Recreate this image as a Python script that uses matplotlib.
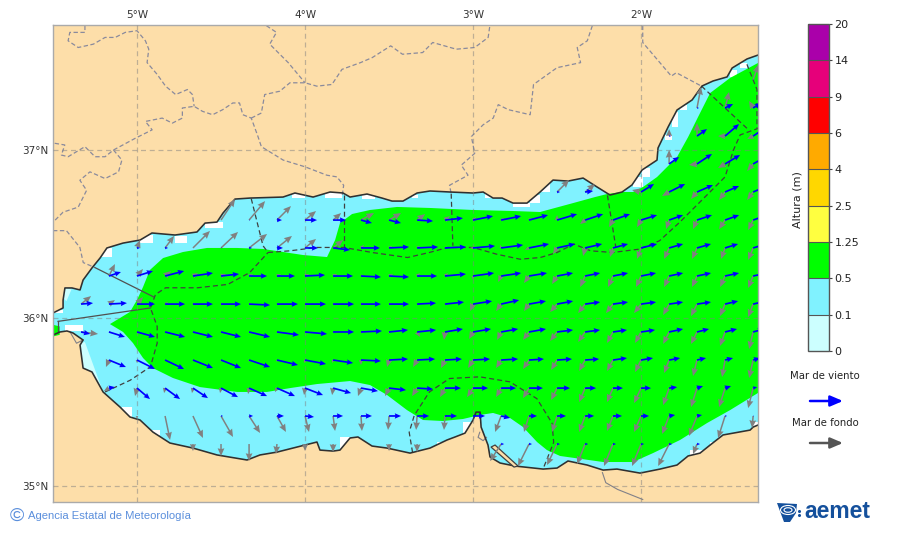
import numpy as np
import matplotlib
matplotlib.use('Agg')
import matplotlib.pyplot as plt
from matplotlib.colors import ListedColormap, BoundaryNorm
from matplotlib.cm import ScalarMappable
from matplotlib.patches import Polygon, Rectangle, Ellipse

N = np.nan

# wave height classes
levels = [0, 1, 2, 3, 4, 5, 6, 7, 8, 9]
level_labels = ['0', '0.1', '0.5', '1.25', '2.5', '4', '6', '9', '14', '20']
level_colors = ['#ccffff', '#80f2ff', '#00ff00', '#ffff40', '#ffd700', '#ffaa00', '#ff0000', '#e6007a', '#aa00aa']

# coast, east to west along the spanish side
north_lon = [-1.304, -1.369, -1.458, -1.488, -1.571, -1.637, -1.696, -1.786, -1.839, -1.899, -1.905, -1.994, -2.054,
             -2.113, -2.185, -2.262, -2.345, -2.435, -2.524, -2.601, -2.679, -2.762, -2.827, -2.881, -2.940, -3.0,
             -3.137, -3.256, -3.333, -3.417, -3.482, -3.542, -3.631, -3.732, -3.774, -3.851, -3.952, -4.060, -4.131,
             -4.327, -4.417, -4.488, -4.524, -4.595, -4.643, -4.774, -4.911, -4.982, -5.083, -5.179, -5.220, -5.268,
             -5.321, -5.339, -5.387, -5.429, -5.440, -5.440, -5.488, -5.5]
north_lat = [37.565, 37.542, 37.488, 37.435, 37.411, 37.381, 37.298, 37.238, 37.137, 37.012, 36.940, 36.881, 36.792,
             36.750, 36.732, 36.780, 36.833, 36.815, 36.821, 36.750, 36.684, 36.684, 36.714, 36.714, 36.750, 36.744,
             36.750, 36.756, 36.744, 36.696, 36.696, 36.714, 36.738, 36.720, 36.744, 36.750, 36.720, 36.744, 36.720,
             36.714, 36.708, 36.625, 36.571, 36.565, 36.512, 36.494, 36.506, 36.464, 36.446, 36.417, 36.357, 36.298,
             36.226, 36.167, 36.179, 36.179, 36.107, 36.060, 36.036, 36.030]
# coast, west to east along the african side
south_lon = [-5.5, -5.458, -5.417, -5.381, -5.321, -5.339, -5.321, -5.268, -5.202, -5.101, -5.042, -4.982, -4.905,
             -4.804, -4.667, -4.524, -4.345, -4.268, -4.167, -3.929, -3.911, -3.833, -3.792, -3.732, -3.685, -3.601,
             -3.512, -3.375, -3.256, -3.155, -3.107, -3.048, -3.0, -2.982, -2.958, -2.952, -2.911, -2.899, -2.839,
             -2.75, -2.583, -2.5, -2.435, -2.321, -2.226, -2.143, -2.006, -1.887, -1.786, -1.720, -1.649, -1.589,
             -1.512, -1.351, -1.333, -1.304]
south_lat = [35.899, 35.917, 35.923, 35.911, 35.869, 35.839, 35.702, 35.679, 35.560, 35.470, 35.411, 35.393, 35.321,
             35.256, 35.226, 35.185, 35.155, 35.185, 35.202, 35.262, 35.214, 35.208, 35.214, 35.286, 35.292, 35.238,
             35.226, 35.196, 35.226, 35.274, 35.292, 35.315, 35.393, 35.440, 35.440, 35.351, 35.244, 35.173, 35.137,
             35.119, 35.101, 35.107, 35.149, 35.125, 35.095, 35.101, 35.077, 35.101, 35.125, 35.179, 35.196, 35.244,
             35.304, 35.333, 35.351, 35.363]

# 0.5-1.25 m class
green_lon = [-1.304, -1.470, -1.589, -1.661, -1.720, -1.786, -1.905, -1.988, -2.048, -2.113, -2.202, -2.274, -2.405,
             -2.601, -2.762, -3.0, -3.256, -3.452, -3.613, -3.720, -3.792, -3.821, -3.869, -4.012, -4.131, -4.25,
             -4.405, -4.583, -4.726, -4.845, -4.923, -4.964, -5.0, -5.042, -5.161, -5.083, -5.024, -4.964, -4.905,
             -4.786, -4.625, -4.405, -4.226, -4.089, -3.929, -3.732, -3.613, -3.512, -3.393, -3.298, -3.179, -3.060,
             -2.958, -2.881, -2.780, -2.702, -2.619, -2.560, -2.482, -2.226, -2.048, -1.929, -1.768, -1.607, -1.470,
             -1.304]
green_lat = [37.518, 37.429, 37.339, 37.196, 37.077, 36.958, 36.839, 36.780, 36.750, 36.750, 36.738, 36.720, 36.684,
             36.631, 36.637, 36.643, 36.655, 36.661, 36.643, 36.619, 36.565, 36.464, 36.363, 36.375, 36.393, 36.411,
             36.417, 36.417, 36.393, 36.357, 36.286, 36.185, 36.107, 36.036, 35.964, 35.917, 35.851, 35.762, 35.702,
             35.643, 35.589, 35.560, 35.560, 35.583, 35.607, 35.625, 35.601, 35.542, 35.452, 35.393, 35.387, 35.399,
             35.423, 35.435, 35.405, 35.351, 35.262, 35.214, 35.179, 35.143, 35.143, 35.196, 35.274, 35.375, 35.452,
             35.554]
ceuta_lon = [-5.5, -5.46, -5.46, -5.5]
ceuta_lat = [35.96, 35.95, 35.90, 35.89]

# 0-0.1 m class
pale_lon = [-5.339, -5.310, -5.202, -5.268, -5.321]
pale_lat = [35.851, 35.857, 35.560, 35.679, 35.702]
pale2_lon = [-5.43, -5.39, -5.42, -5.44]
pale2_lat = [36.18, 36.17, 36.10, 36.12]

# sand spit east of Melilla
spit_lon = [-2.893, -2.869, -2.732, -2.756]
spit_lat = [35.232, 35.244, 35.119, 35.113]

# cells with no data along the coast
gap_west = [-4.595, -4.774, -4.982, -5.208, -5.429, -5.089, -4.911, -3.792, -4.077, -3.881, -3.661, -3.363, -2.929,
            -2.762, -2.661, -2.601, -2.048, -1.994, -1.857, -1.815, -1.768, -1.470, -1.411, -3.214, -3.060, -1.708,
            -1.589, -1.333, -5.488]
gap_east = [-4.488, -4.702, -4.905, -5.149, -5.321, -5.030, -4.863, -3.732, -4.0, -3.780, -3.583, -3.327, -2.881,
            -2.661, -2.601, -2.542, -1.988, -1.946, -1.815, -1.780, -1.726, -1.429, -1.369, -3.167, -3.006, -1.631,
            -1.560, -1.304, -5.440]
gap_south = [36.536, 36.446, 36.446, 36.363, 35.923, 35.411, 35.304, 35.214, 36.714, 36.714, 36.708, 36.714, 36.714,
             36.661, 36.684, 36.750, 36.780, 36.839, 37.060, 37.137, 37.238, 37.435, 37.488, 35.232, 35.292, 35.179,
             35.244, 35.351, 36.030]
gap_north = [36.571, 36.488, 36.494, 36.417, 35.958, 35.470, 35.333, 35.292, 36.744, 36.744, 36.738, 36.732, 36.750,
             36.684, 36.732, 36.804, 36.839, 36.893, 37.089, 37.226, 37.268, 37.476, 37.518, 35.262, 35.381, 35.214,
             35.262, 35.381, 36.048]

# provinces and country borders on land, (lon, lat)
land_borders = [
    ([-5.31, -5.31, -5.40, -5.41, -5.35, -5.26, -5.19, -5.13, -5.07, -5.00, -4.95, -4.93, -4.94, -4.88, -4.83, -4.77,
      -4.70, -4.67, -4.66],
     [37.74, 37.70, 37.70, 37.65, 37.61, 37.63, 37.67, 37.67, 37.70, 37.71, 37.65, 37.60, 37.52, 37.45, 37.38, 37.33,
      37.36, 37.33, 37.26]),
    ([-5.49, -5.43, -5.45, -5.41, -5.31, -5.25, -5.19, -5.14, -5.01, -4.91, -4.95, -4.85, -4.79, -4.73, -4.73, -4.66,
      -4.61, -4.55, -4.49, -4.43, -4.39, -4.37, -4.32, -4.28, -4.26, -4.13, -4.00, -3.87, -3.81, -3.77, -3.78],
     [37.04, 37.03, 36.97, 36.96, 37.02, 36.96, 36.96, 37.00, 37.07, 37.12, 37.17, 37.19, 37.16, 37.19, 37.25, 37.26,
      37.23, 37.21, 37.24, 37.28, 37.28, 37.21, 37.19, 37.08, 37.02, 36.94, 36.90, 36.85, 36.84, 36.79, 36.72]),
    ([-5.14, -5.09, -5.11, -5.19, -5.28, -5.34, -5.30, -5.35, -5.44, -5.50],
     [37.00, 36.94, 36.87, 36.83, 36.87, 36.82, 36.76, 36.66, 36.63, 36.57]),
    ([-5.50, -5.42, -5.34, -5.32, -5.25],
     [36.52, 36.52, 36.42, 36.33, 36.30]),
    ([-4.32, -4.26, -4.24, -4.15, -4.09, -4.00, -3.93, -3.84, -3.78, -3.67, -3.60, -3.49, -3.42, -3.30, -3.24, -3.10,
      -2.99, -2.91, -2.90],
     [37.19, 37.22, 37.33, 37.35, 37.40, 37.40, 37.38, 37.39, 37.48, 37.52, 37.55, 37.62, 37.57, 37.58, 37.64, 37.60,
      37.61, 37.67, 37.74]),
    ([-4.23, -4.17, -4.21, -4.10, -4.00],
     [37.74, 37.70, 37.63, 37.52, 37.40]),
    ([-2.29, -2.32, -2.38, -2.36, -2.50, -2.64, -2.66, -2.79, -2.85, -2.88, -2.94, -3.01, -2.99, -3.07, -3.03, -3.14,
      -3.13],
     [37.74, 37.65, 37.61, 37.52, 37.49, 37.39, 37.21, 37.24, 37.27, 37.19, 37.15, 37.08, 36.98, 36.91, 36.85, 36.79,
      36.74]),
    ([-1.99, -1.99, -1.82, -1.79, -1.64],
     [37.74, 37.64, 37.44, 37.46, 37.38]),
]

# maritime zones, dashed
sea_dashed = [
    ([-5.19, -5.04, -4.92, -4.88, -4.88, -4.92, -4.89, -4.83, -4.64, -4.46, -4.33, -4.22],
     [35.56, 35.63, 35.71, 35.85, 35.95, 36.06, 36.14, 36.18, 36.18, 36.20, 36.27, 36.39]),
    ([-4.22, -4.09, -3.93, -3.77, -3.60, -3.39, -3.26, -3.15, -3.00, -2.86, -2.72, -2.60, -2.50, -2.40, -2.30, -2.17,
      -2.01, -1.89, -1.77, -1.61, -1.50, -1.45, -1.41, -1.30],
     [36.39, 36.40, 36.42, 36.42, 36.39, 36.36, 36.39, 36.42, 36.42, 36.38, 36.35, 36.36, 36.39, 36.44, 36.40, 36.39,
      36.41, 36.46, 36.57, 36.73, 36.84, 37.00, 37.09, 37.13]),
    ([-3.77, -3.77], [36.73, 36.42]),
    ([-3.13, -3.12], [36.74, 36.43]),
    ([-2.20, -2.15], [36.73, 36.42]),
    ([-4.32, -4.25, -4.22], [36.71, 36.43, 36.39]),
    ([-1.64, -1.36], [37.38, 37.12]),
    ([-1.37, -1.31, -1.31], [37.51, 37.36, 37.13]),
    ([-3.36, -3.38, -3.35, -3.26, -3.14, -2.96, -2.78, -2.62, -2.53, -2.52, -2.58],
     [35.20, 35.32, 35.42, 35.56, 35.64, 35.65, 35.62, 35.52, 35.375, 35.26, 35.11]),
]
sea_solid = [
    ([-5.25, -4.90], [36.30, 36.125]),
    ([-5.47, -4.92], [35.98, 36.06]),
    ([-5.47, -5.47], [35.98, 35.92]),
]
thin_grey = [
    ([-2.23, -2.21, -2.14, -1.99], [35.08, 35.02, 34.98, 34.92]),
    ([-2.96, -2.97, -2.94, -2.92], [35.32, 35.29, 35.27, 35.29]),
    ([-5.40, -5.36, -5.32], [35.92, 35.85, 35.87]),
]

# arrow grid
grid_lon = [-5.333, -5.167, -5.0, -4.833, -4.667, -4.5, -4.333, -4.167, -4.0, -3.833, -3.667, -3.5, -3.333, -3.167,
            -3.0, -2.833, -2.667, -2.5, -2.333, -2.167, -2.0, -1.833, -1.667, -1.5, -1.333]
grid_lat = [37.417, 37.25, 37.083, 36.917, 36.75, 36.583, 36.417, 36.25, 36.083, 35.917, 35.75, 35.583, 35.417, 35.25]

wind_u = [
    [N]*24 + [1],
    [N]*22 + [2, 8, 8],
    [N]*21 + [2, 10, 14, 12],
    [N]*21 + [10, 15, 15, 14],
    [N]*17 + [3, 8, N, 13, 16, 16, 14, 14],
    [N]*5 + [0, 1, 5, 12, 13, 11, 12, 16, 18, 20, 20, 19, 20, 18, 17, 16, 14, 15, 14, 14],
    [N]*2 + [3, 3, 0, 1, 3, 6, 13, 17, 19, 20, 21, 21, 22, 22, 20, 18, 17, 15, 16, 14, 14, 13, 13],
    [N] + [12, 16, 19, 20, 18, 18, 18, 20, 20, 20, 20, 20, 21, 21, 20, 18, 16, 15, 15, 15, 14, 14, 14, 14],
    [12, 18, 18, 20, 20, 20, 21, 21, 21, 21, 20, 20, 19, 19, 19, 18, 17, 16, 15, 15, 15, 14, 14, 13, 13],
    [9, 16, 18, 20, 20, 20, 21, 22, 22, 21, 21, 19, 19, 18, 18, 17, 17, 16, 15, 14, 14, 14, 12, 12, 11],
    [N] + [17, 18, 19, 20, 20, 21, 21, 21, 20, 20, 19, 18, 17, 17, 17, 15, 15, 14, 14, 12, 11, 9, 8, 7],
    [N] + [6, 13, 15, 15, 17, 18, 18, 18, 18, 17, 17, 16, 16, 15, 15, 14, 13, 11, 10, 10, 8, 6, 6, 4],
    [N]*2 + [0, 0, 0, 2, 4, 7, 9, 10, 11, 12, 12, 12, 12, 9, 8, 9, 9, 9, 8, 6, 5, 2, 1],
    [N]*4 + [0, 0, 0, 0, 0, 0, N, 0, 0, N, N, 3, 3, 3, 3, 3, 3, 3, 3, N, N],
]
wind_v = [
    [N]*24 + [0],
    [N]*22 + [0, 4, 5],
    [N]*21 + [0, 7, 12, 8],
    [N]*21 + [7, 10, 9, 8],
    [N]*17 + [0, 1, N, 8, 8, 7, 6, 6],
    [N]*5 + [0, 0, 0, 0, 0, -3, -3, -1, 2, 4, 4, 5, 6, 6, 6, 5, 5, 5, 5, 5],
    [N]*2 + [0, 0, 0, 0, 0, 0, 0, -2, 0, 1, 1, 1, 2, 3, 4, 4, 4, 4, 4, 4, 4, 4, 4],
    [N] + [4, 5, 5, 3, 2, 0, 0, 1, 0, -1, -1, 0, 2, 3, 3, 3, 3, 3, 3, 3, 3, 3, 3, 3],
    [1, 1, 0, 0, 0, 0, -1, 0, 0, 0, 0, 0, 1, 2, 3, 4, 3, 3, 2, 2, 2, 2, 2, 3, 3],
    [-2, -5, -5, -5, -5, -5, -5, -3, -2, 0, 1, 2, 2, 3, 3, 3, 3, 2, 2, 2, 2, 3, 3, 3, 3],
    [N] + [-7, -9, -9, -8, -8, -7, -5, -4, -3, -1, 1, 1, 1, 1, 1, 1, 1, 1, 2, 2, 2, 2, 2, 2],
    [N] + [1, -11, -11, -10, -9, -8, -8, -7, -5, -3, -2, -1, 0, 0, 0, 0, 0, 0, 0, 0, 1, 2, 2, 1],
    [N]*2 + [0, 0, 0, 0, 0, 0, -1, 0, 0, 0, 0, 0, 0, -2, 0, 0, 0, 0, 0, 1, 1, 0, 0],
    [N]*4 + [0, 0, 0, 0, 0, 0, N, 0, 0, N, N, 0, 0, 0, 0, 0, 0, 0, 0, N, N],
]
swell_u = [
    [N]*24 + [5],
    [N]*22 + [4, 4, -4],
    [N]*21 + [0, 0, -7, -6],
    [N]*21 + [0, -8, -7, -6],
    [N]*17 + [12, 10, N, -9, -7, -6, -6, -6],
    [N]*5 + [14, 16, 14, 11, 8, 13, 12, 8, 5, 3, 3, 3, 0, -5, -4, -4, -3, -4, -6, -5],
    [N]*2 + [3, 9, 17, 17, 18, 15, 11, 10, 3, 3, 3, 2, -3, -1, -4, -4, -2, -3, -4, -5, -5, -4, -5],
    [N] + [6, 6, 6, 5, 5, 4, 4, 4, 4, 3, 4, 3, 3, 0, -3, -5, -5, -5, -5, -5, -5, -5, -5, -5],
    [10, 6, 6, 3, 3, 3, 3, 3, 3, 3, 3, 3, 3, 2, -3, -5, -5, -7, -7, -7, -7, -6, -6, -5, -5],
    [17, 2, 2, 2, 2, 2, 2, 2, 2, 2, 3, 1, 3, -1, -4, -4, -6, -7, -7, -6, -6, -6, -6, -5, -4],
    [N] + [-3, 0, 1, 1, 0, 0, 0, -1, -1, 0, -2, -4, -4, -5, -5, -6, -6, -6, -6, -6, -5, -4, -3, -4],
    [N] + [-5, -2, -1, -1, -1, -1, -2, -1, -1, -3, -4, -5, -5, -6, -5, -6, -6, -6, -6, -7, -6, -6, -6, -5],
    [N]*2 + [0, 5, 10, 12, 11, 9, 4, 2, 1, -1, -1, -1, 0, -6, -5, -5, -6, -6, -7, -7, -8, -7, -1],
    [N]*4 + [0, 0, 0, -1, 0, 0, N, 0, 0, N, N, -11, -11, -10, -8, -9, -9, -11, -4, N, N],
]
swell_v = [
    [N]*24 + [15],
    [N]*22 + [21, 16, 7],
    [N]*21 + [7, 13, 0, -3],
    [N]*21 + [14, -1, -4, -7],
    [N]*17 + [12, 8, N, 2, -4, -7, -8, -8],
    [N]*5 + [21, 19, 14, 9, 7, 7, 7, 6, 4, 3, 2, 2, 5, -4, -7, -7, -9, -9, -9, -10],
    [N]*2 + [8, 12, 17, 16, 14, 12, 9, 8, 3, 2, 2, 1, 0, 3, -2, -6, -8, -9, -11, -11, -11, -11, -12],
    [N] + [12, 7, 5, 3, 2, 2, 2, 2, 2, 1, 2, 3, 3, -4, -6, -7, -8, -11, -11, -11, -11, -11, -11, -12],
    [8, 4, 7, 2, 1, 1, 1, 1, 1, 1, 1, 1, 1, 1, -7, -7, -7, -8, -9, -9, -9, -11, -12, -12, -13],
    [-2, 0, 0, 0, 0, 0, -1, -1, -1, -1, -1, -2, -5, -8, -7, -8, -8, -9, -10, -11, -11, -12, -12, -14, -17],
    [N] + [-7, -3, -1, -1, -2, -2, -2, -3, -3, -5, -7, -7, -8, -8, -8, -9, -10, -11, -11, -12, -13, -16, -17, -18],
    [N] + [-3, -8, -5, -5, -5, -6, -4, -7, -7, -8, -8, -8, -9, -9, -9, -10, -12, -14, -14, -15, -17, -19, -19, -20],
    [N]*2 + [-3, -24, -22, -21, -17, -16, -16, -15, -15, -14, -14, -14, 0, -16, -16, -16, -16, -15, -16, -18, -20, -22, -12],
    [N]*4 + [-7, -12, -17, -10, -7, -8, N, -7, -8, N, N, -17, -22, -21, -20, -22, -22, -22, -10, N, N],
]

lon_ticks = [-5, -4, -3, -2]
lon_labels = ['5°W', '4°W', '3°W', '2°W']
lat_ticks = [35, 36, 37]
lat_labels = ['35°N', '36°N', '37°N']

SAND = '#fddea9'
W, H = 900, 533


def fx(px):
    return px / W


def fy(py):
    return 1 - py / H


def arrows(ax, u, v, color, width, head, zorder):
    u = np.array(u, float)
    v = np.array(v, float)
    mask = np.isnan(u) | ((u == 0) & (v == 0))
    X, Y = np.meshgrid(grid_lon, grid_lat)
    # 168 px per degree, u and v are in px
    ax.quiver(X, Y, np.ma.array(u, mask=mask), np.ma.array(v, mask=mask), color=color, angles='xy',
              scale_units='xy', scale=168, units='dots', width=width, headwidth=head, headlength=head * 1.15,
              headaxislength=head * 1.05, minlength=0, zorder=zorder)


fig = plt.figure(figsize=(9, 5.33), dpi=100)
ax = fig.add_axes([fx(53), fy(502), 705 / W, 477 / H])
ax.set_facecolor(SAND)
ax.set_xlim(-5.5, -1.304)
ax.set_ylim(34.905, 37.744)

sea_xy = np.column_stack([north_lon + south_lon, north_lat + south_lat])
sea = Polygon(sea_xy, closed=True, fc=level_colors[1], ec='none', zorder=1)
ax.add_patch(sea)
for x0, x1, y0, y1 in zip(gap_west, gap_east, gap_south, gap_north):
    r = Rectangle((x0, y0), x1 - x0, y1 - y0, fc='white', ec='none', zorder=1.1)
    ax.add_patch(r)
    r.set_clip_path(sea)
for lo, la in [(pale_lon, pale_lat), (pale2_lon, pale2_lat)]:
    ax.add_patch(Polygon(np.column_stack([lo, la]), fc=level_colors[0], ec='none', zorder=1.2))
ax.add_patch(Polygon(np.column_stack([green_lon, green_lat]), fc=level_colors[2], ec='none', zorder=1.3))
ax.add_patch(Polygon(np.column_stack([ceuta_lon, ceuta_lat]), fc=level_colors[2], ec='none', zorder=1.3))

ax.set_xticks(lon_ticks)
ax.set_xticklabels(lon_labels, fontsize=7.5, color='#333333')
ax.set_yticks(lat_ticks)
ax.set_yticklabels(lat_labels, fontsize=7.5, color='#333333')
ax.xaxis.tick_top()
ax.tick_params(length=0, pad=3.5)
ax.grid(True, color='#808080', lw=0.9, ls=(0, (4, 3)), alpha=0.5, zorder=2)
ax.set_axisbelow(False)
for s in ax.spines.values():
    s.set_color('#aaaaaa')
    s.set_linewidth(1)

for lo, la in land_borders:
    ax.plot(lo, la, color='#8a8a9c', lw=0.9, ls=(0, (3.5, 2)), zorder=2.2)
for lo, la in sea_dashed:
    ax.plot(lo, la, color='#404040', lw=0.9, ls=(0, (4, 2.5)), zorder=2.2)
for lo, la in sea_solid:
    ax.plot(lo, la, color='#505050', lw=0.9, zorder=2.2)
for lo, la in thin_grey:
    ax.plot(lo, la, color='#808088', lw=0.8, zorder=2.2)

ax.plot(north_lon, north_lat, color='#303030', lw=1.15, zorder=2.4)
ax.plot(south_lon, south_lat, color='#303030', lw=1.15, zorder=2.4)
ax.add_patch(Polygon(np.column_stack([spit_lon, spit_lat]), fc=SAND, ec='#404040', lw=0.9, zorder=2.5))

arrows(ax, swell_u, swell_v, '#808080', 1.5, 4.5, 3)
arrows(ax, wind_u, wind_v, '#0000ff', 1.7, 3.2, 3.1)

# colour bar
cax = fig.add_axes([fx(808), fy(351), 21 / W, 327 / H])
sm = ScalarMappable(norm=BoundaryNorm(levels, len(level_colors)), cmap=ListedColormap(level_colors))
cb = fig.colorbar(sm, cax=cax, ticks=levels, spacing='uniform', drawedges=True)
cb.ax.set_yticklabels(level_labels, fontsize=8, color='#222222')
cb.ax.tick_params(length=2.5, width=0.8, pad=1.5, color='#444444')
cb.outline.set_edgecolor('#555555')
cb.outline.set_linewidth(1)
cb.dividers.set_color('#555555')
cb.dividers.set_linewidth(0.8)
fig.text(fx(798), fy(200), 'Altura (m)', rotation=90, fontsize=8, color='#222222', ha='center', va='center')

# arrow legend
fig.text(fx(825), fy(376), 'Mar de viento', fontsize=7.3, color='#222222', ha='center', va='center')
fig.text(fx(825), fy(423), 'Mar de fondo', fontsize=7.3, color='#222222', ha='center', va='center')
for py, col in [(401, '#0000ff'), (443, '#555555')]:
    ax.annotate('', xy=(fx(843), fy(py)), xytext=(fx(810), fy(py)), xycoords='figure fraction',
                textcoords='figure fraction',
                arrowprops=dict(arrowstyle='-|>,head_length=0.75,head_width=0.32', lw=1.8, color=col,
                                shrinkA=0, shrinkB=0))

# footer
fig.text(fx(10), fy(516), '©', fontsize=14, color='#5b8fdc', family='Liberation Sans', ha='left', va='center')
fig.text(fx(28), fy(516), 'Agencia Estatal de Meteorología', fontsize=8.1, color='#5b8fdc',
         family='Liberation Sans', ha='left', va='center')
fig.text(fx(804), fy(512), 'aemet', fontsize=16.5, color='#14509c', family='Liberation Sans', weight='bold',
         ha='left', va='center')

# swirl of the aemet logo
lax = fig.add_axes([fx(776), fy(524), 26 / W, 22 / H])
lax.set_xlim(0, 26)
lax.set_ylim(22, 0)
lax.axis('off')
lax.add_patch(Polygon([(1, 1), (21, 2), (20, 11), (14, 20), (8, 20), (5, 12)], fc='#14509c', ec='none'))
lax.add_patch(Ellipse((12, 8), 15, 9, fc='none', ec='white', lw=0.8))
lax.add_patch(Ellipse((12, 8), 8, 4.5, fc='none', ec='white', lw=0.8))
lax.plot([23, 23], [9, 13], ls='none', marker='o', ms=1.2, color='#14509c')

fig.savefig('out.png', dpi=100)
